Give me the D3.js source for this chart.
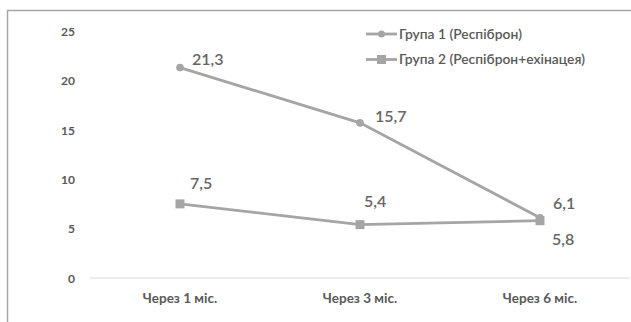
<!DOCTYPE html>
<html>
<head>
<meta charset="utf-8">
<script src="https://cdn.jsdelivr.net/npm/d3@7"></script>
<style>
  html, body { margin: 0; padding: 0; background: #fff; }
  svg { display: block; }
  text { font-family: Lato, "Open Sans", "Liberation Sans", sans-serif; }
</style>
</head>
<body>
<svg id="chart" width="631" height="322"></svg>
<script>
// Chart data
const categories = ["Через 1 міс.", "Через 3 міс.", "Через 6 міс."];
const seriesNames = ["Група 1 (Респіброн)", "Група 2 (Респіброн+ехінацея)"];
const group1 = [21.3, 15.7, 6.1];
const group2 = [7.5, 5.4, 5.8];
const yTicks = [0, 5, 10, 15, 20, 25];

const series = [
  { name: seriesNames[0], values: group1, marker: "circle" },
  { name: seriesNames[1], values: group2, marker: "square" }
];

// Data label placement relative to each point [dx, dy]
const labelOffsets = [
  [[12, -3], [15, -1], [13, -9]],
  [[10, -15], [4, -18], [12, 24]]
];
// Legend text widths
const legendWidths = [123, 186];

const W = 631, H = 322;
const lineColor = "#a5a5a5";
const textColor = "#595959";

const svg = d3.select("#chart");

// Outer frame (clipped on right and bottom)
svg.append("rect")
  .attr("x", 7.5).attr("y", 10.5)
  .attr("width", W + 20).attr("height", H + 20)
  .attr("fill", "none")
  .attr("stroke", "#a6a6a6")
  .attr("stroke-width", 1.5);

const x = d3.scaleBand().domain(categories).range([90, 630]);
const y = d3.scaleLinear().domain([0, 25]).range([278, 31]);
const cx = c => x(c) + x.bandwidth() / 2;

// Y axis labels
const yAxis = d3.axisLeft(y).tickValues(yTicks).tickSize(0).tickPadding(0).tickFormat(d3.format("d"));
const yG = svg.append("g").attr("transform", "translate(75,0)").call(yAxis);
yG.select(".domain").remove();
yG.selectAll("text")
  .attr("fill", textColor)
  .attr("font-size", 12)
  .attr("font-weight", 700)
  .attr("dy", "0.35em");

// Baseline
svg.append("line")
  .attr("x1", 90).attr("x2", 630)
  .attr("y1", y(0)).attr("y2", y(0))
  .attr("stroke", "#d9d9d9").attr("stroke-width", 1);

// X axis labels
const xAxis = d3.axisBottom(x).tickSize(0).tickPadding(0);
const xG = svg.append("g").attr("transform", `translate(0,${y(0)})`).call(xAxis);
xG.select(".domain").remove();
xG.selectAll("text")
  .attr("fill", textColor)
  .attr("font-size", 13.5)
  .attr("font-weight", 700)
  .attr("y", 25)
  .attr("dy", 0);

const line = d3.line().x((d, i) => cx(categories[i])).y(d => y(d));

series.forEach((s, si) => {
  svg.append("path")
    .datum(s.values)
    .attr("d", line)
    .attr("fill", "none")
    .attr("stroke", lineColor)
    .attr("stroke-width", 2.8);

  const g = svg.append("g");
  s.values.forEach((v, i) => {
    const px = cx(categories[i]), py = y(v);
    if (s.marker === "circle") {
      g.append("circle").attr("cx", px).attr("cy", py).attr("r", 3.8).attr("fill", lineColor);
    } else {
      g.append("rect").attr("x", px - 4.5).attr("y", py - 4.5).attr("width", 9).attr("height", 9).attr("fill", lineColor);
    }
    const [dx, dy] = labelOffsets[si][i];
    svg.append("text")
      .attr("x", px + dx).attr("y", py + dy)
      .attr("fill", "#666")
      .attr("font-size", 16)
      .attr("font-weight", 600)
      .text(d3.format(".1f")(v).replace(".", ","));
  });
});

// Legend
const legend = svg.append("g");
series.forEach((s, i) => {
  const ly = 34 + i * 25.5;
  legend.append("line")
    .attr("x1", 366).attr("x2", 397)
    .attr("y1", ly).attr("y2", ly)
    .attr("stroke", lineColor).attr("stroke-width", 2.8);
  if (s.marker === "circle") {
    legend.append("circle").attr("cx", 381.5).attr("cy", ly).attr("r", 3.5).attr("fill", lineColor);
  } else {
    legend.append("rect").attr("x", 377).attr("y", ly - 4.5).attr("width", 9).attr("height", 9).attr("fill", lineColor);
  }
  legend.append("text")
    .attr("x", 399).attr("y", ly)
    .attr("dy", "0.35em")
    .attr("fill", textColor)
    .attr("font-size", 13)
    .attr("font-weight", 600)
    .attr("textLength", legendWidths[i])
    .attr("lengthAdjust", "spacingAndGlyphs")
    .text(s.name);
});
</script>
</body>
</html>
